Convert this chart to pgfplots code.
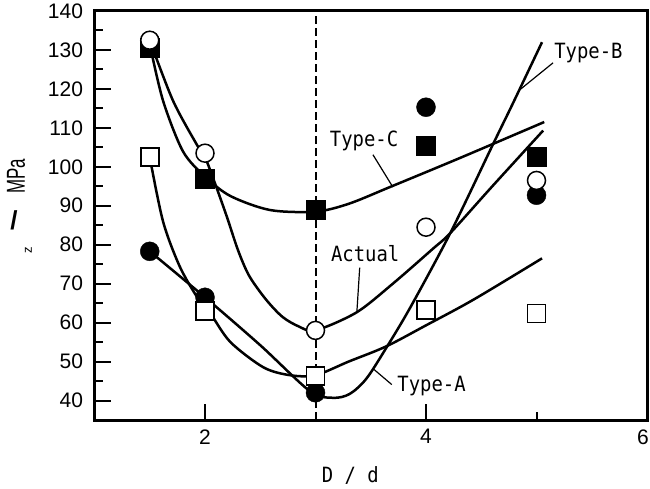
\documentclass[border=0pt]{standalone}
\usepackage{fontspec}
\setmainfont{Liberation Sans}
\newfontfamily\gothic[FakeStretch=0.9]{DejaVu Sans Mono}
\newfontfamily\ylabfont[FakeStretch=0.65]{Liberation Sans}
\usepackage{pgfplots}
\pgfplotsset{compat=1.18}

\begin{document}
\begin{tikzpicture}
\useasboundingbox (0,0) rectangle (650pt,488pt);
\begin{axis}[
  at={(94.5pt,68pt)}, anchor=south west,
  width=552.5pt, height=409pt, scale only axis,
  xmin=1, xmax=6, ymin=35, ymax=140,
  xtick={2,4,6}, xticklabels={2,4,{\hspace{-8pt}6}}, minor xtick={3,5},
  ytick={40,50,...,140}, minor ytick={45,55,...,135},
  tick align=inside, tick pos=left,
  major tick length=16pt, minor tick length=8.5pt,
  every tick/.append style={black, line width=2pt},
  every minor tick/.append style={black, line width=2pt},
  axis line style={line width=3pt},
  ticklabel style={font=\fontsize{21}{21}\selectfont},
  /pgf/number format/assume math mode=true,
  yticklabel style={xshift=-8pt},
  xticklabel style={yshift=-6pt},
  xlabel={D / d},
  xlabel style={at={(axis description cs:0.463,0)}, anchor=center, yshift=-55pt,
                font=\gothic\fontsize{21}{21}\selectfont},
  ylabel={MPa},
  ylabel style={at={(axis description cs:-0.1421,0.5954)}, anchor=center, inner sep=0pt,
                font={\ylabfont\fontsize{26}{26}\selectfont}},
  clip=false,
]
% fitted curves
\addplot[black, line width=2.5pt, smooth] coordinates {
 (1.5,131.5) (1.62,117) (1.8,104) (2,97.5) (2.23,92.5) (2.59,88.9) (3,88.5)
 (3.3,90.5) (3.69,95) (4.31,102.3) (5.07,111.5)};
\addplot[black, line width=2.5pt, smooth] coordinates {
 (1.5,132.5) (1.71,117) (1.93,105.5) (2.0,102.5) (2.1,95) (2.2,87) (2.3,78.5)
 (2.4,72) (2.55,66) (2.7,61.5) (2.85,59) (3.0,58) (3.37,62.6) (3.7,70)
 (4.06,78.9) (4.22,83) (4.6,95) (5.06,109.3)};
\addplot[black, line width=2.5pt, smooth] coordinates {
 (1.5,78.3) (2.0,66.5) (2.5,54.2) (2.95,42.4) (3.16,40.7) (3.31,41.7)
 (3.46,45.6) (3.64,53.5) (3.86,64) (4.22,83) (4.61,106) (4.79,116.5) (5.05,132)};
\addplot[black, line width=2.5pt, smooth] coordinates {
 (1.5,102.5) (1.62,86) (1.77,74.5) (1.93,66.5) (2.05,62.3) (2.23,55)
 (2.53,48.5) (2.77,46.5) (3.0,46.5) (3.3,50) (3.64,53.9) (4.0,59.3)
 (4.43,65.9) (5.05,76.5)};
% markers
\addplot[only marks, mark=square*, mark size=9.5pt, mark options={fill=black, draw=black}]
 coordinates {(1.5,130.5) (2,97) (3,89) (4,105.5) (5,102.5)};
\addplot[only marks, mark=*, mark size=9.5pt, mark options={fill=black, draw=black}]
 coordinates {(1.5,78.3) (2,66.5) (3,42) (4,115.3) (5,92.7)};
\addplot[only marks, mark=*, mark size=9pt, mark options={fill=white, draw=black, line width=1.5pt}]
 coordinates {(1.5,132.5) (2,103.5) (3,58) (4,84.5) (5,96.5)};
\addplot[only marks, mark=square*, mark size=9pt, mark options={fill=white, draw=black, line width=1.5pt}]
 coordinates {(1.5,102.5) (2,63) (3,46.3) (4,63.2) (5,62.3)};
% dashed reference line
\addplot[black, line width=2pt, dash pattern=on 8pt off 4pt] coordinates {(3,35) (3,140)};
% y label pieces
\node[font=\bfseries\fontsize{26}{26}\selectfont, inner sep=0pt] at (axis description cs:-0.1457,0.489) {/};
\node[rotate=90, font=\fontsize{13}{13}\selectfont, inner sep=0pt] at (axis description cs:-0.1195,0.4156) {z};
% annotations
\draw[line width=1.2pt] (axis cs:3.52,103.1) -- (axis cs:3.70,94.8);
\draw[line width=1.2pt] (axis cs:3.40,74.1) -- (axis cs:3.375,63);
\draw[line width=1.2pt] (axis cs:3.69,44.1) -- (axis cs:3.52,48.2);
\draw[line width=1.2pt] (axis cs:5.15,126.7) -- (axis cs:4.85,119.8);
\node[font=\gothic\fontsize{21}{21}\selectfont, inner sep=0pt] at (axis cs:3.44,106.7) {Type-C};
\node[font=\gothic\fontsize{21}{21}\selectfont, inner sep=0pt] at (axis cs:3.45,77.7) {Actual};
\node[font=\gothic\fontsize{21}{21}\selectfont, inner sep=0pt] at (axis cs:4.05,43.6) {Type-A};
\node[font=\gothic\fontsize{21}{21}\selectfont, inner sep=0pt] at (axis cs:5.47,129.2) {Type-B};
\end{axis}
\end{tikzpicture}
\end{document}
